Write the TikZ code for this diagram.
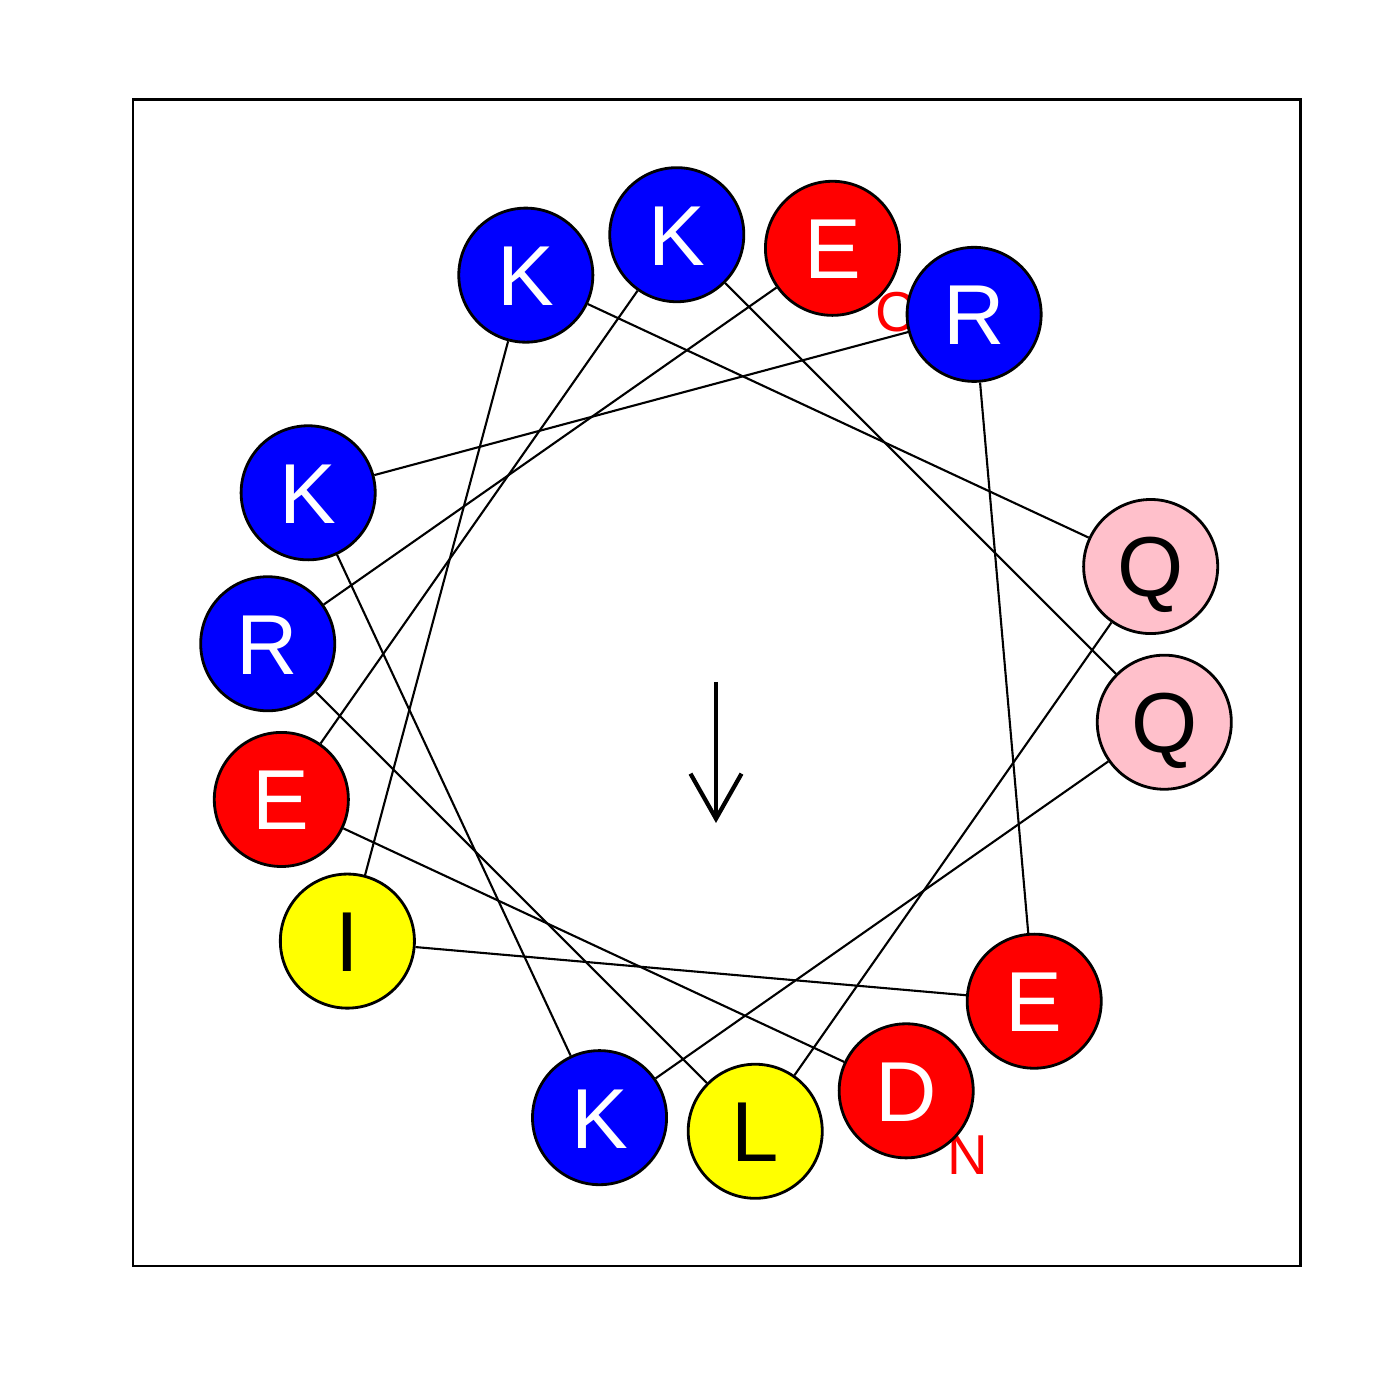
\documentclass[tikz,border=0pt]{standalone}
\usepackage{fontspec}
\setmainfont{Liberation Sans}
\usetikzlibrary{arrows.meta}
\definecolor{acidic}{RGB}{255,0,0}
\definecolor{basic}{RGB}{0,0,255}
\definecolor{apolar}{RGB}{255,255,0}
\definecolor{amide}{RGB}{255,192,203}

\begin{document}
\begin{tikzpicture}[
    x=0.01cm, y=0.01cm,
    residue/.style={circle, draw=black, line width=0.8pt, minimum size=1.34cm, inner sep=0pt, text height=17.3pt, text depth=0pt, font=\fontsize{24.2}{29}\selectfont},
    acidres/.style={residue, fill=acidic, text=white},
    basicres/.style={residue, fill=basic, text=white},
    apolarres/.style={residue, fill=apolar, text=black},
    amideres/.style={residue, fill=amide, text=black},
    terminal/.style={text=red, inner sep=0pt, text height=11.5pt, text depth=0pt, font=\fontsize{16}{19}\selectfont},
    link/.style={line width=0.6pt},
    moment/.style={-{Straight Barb[length=0.45cm, width=0.51cm]}, line width=1.2pt}
]
\useasboundingbox (0,0) rectangle (1400,1400);
\draw[line width=0.85pt] (133,1300) rectangle (1300,134);

% wheel: 100 degrees per residue
\coordinate (c) at (716,717);
\foreach \n in {1,...,14}
    \coordinate (p\n) at ([shift={({-65-100*(\n-1)}:450)}]c);

\node[terminal] (nterm) at ([shift={(62,-63)}]p1) {N};
\node[terminal] (cterm) at ([shift={(63,-63)}]p14) {C};

\foreach \n/\aa/\kind in {1/D/acidres, 2/E/acidres, 3/K/basicres, 4/Q/amideres,
    5/K/basicres, 6/K/basicres, 7/R/basicres, 8/E/acidres, 9/I/apolarres,
    10/K/basicres, 11/Q/amideres, 12/L/apolarres, 13/R/basicres, 14/E/acidres}
    \node[\kind] (r\n) at (p\n) {\aa};

\foreach \n [count=\m from 2] in {1,...,13}
    \draw[link] (r\n) -- (r\m);

% hydrophobic moment
\coordinate (mstart) at (716,718);
\coordinate (mend) at (716,577);
\draw[moment] (mstart) -- (mend);
\end{tikzpicture}
\end{document}
